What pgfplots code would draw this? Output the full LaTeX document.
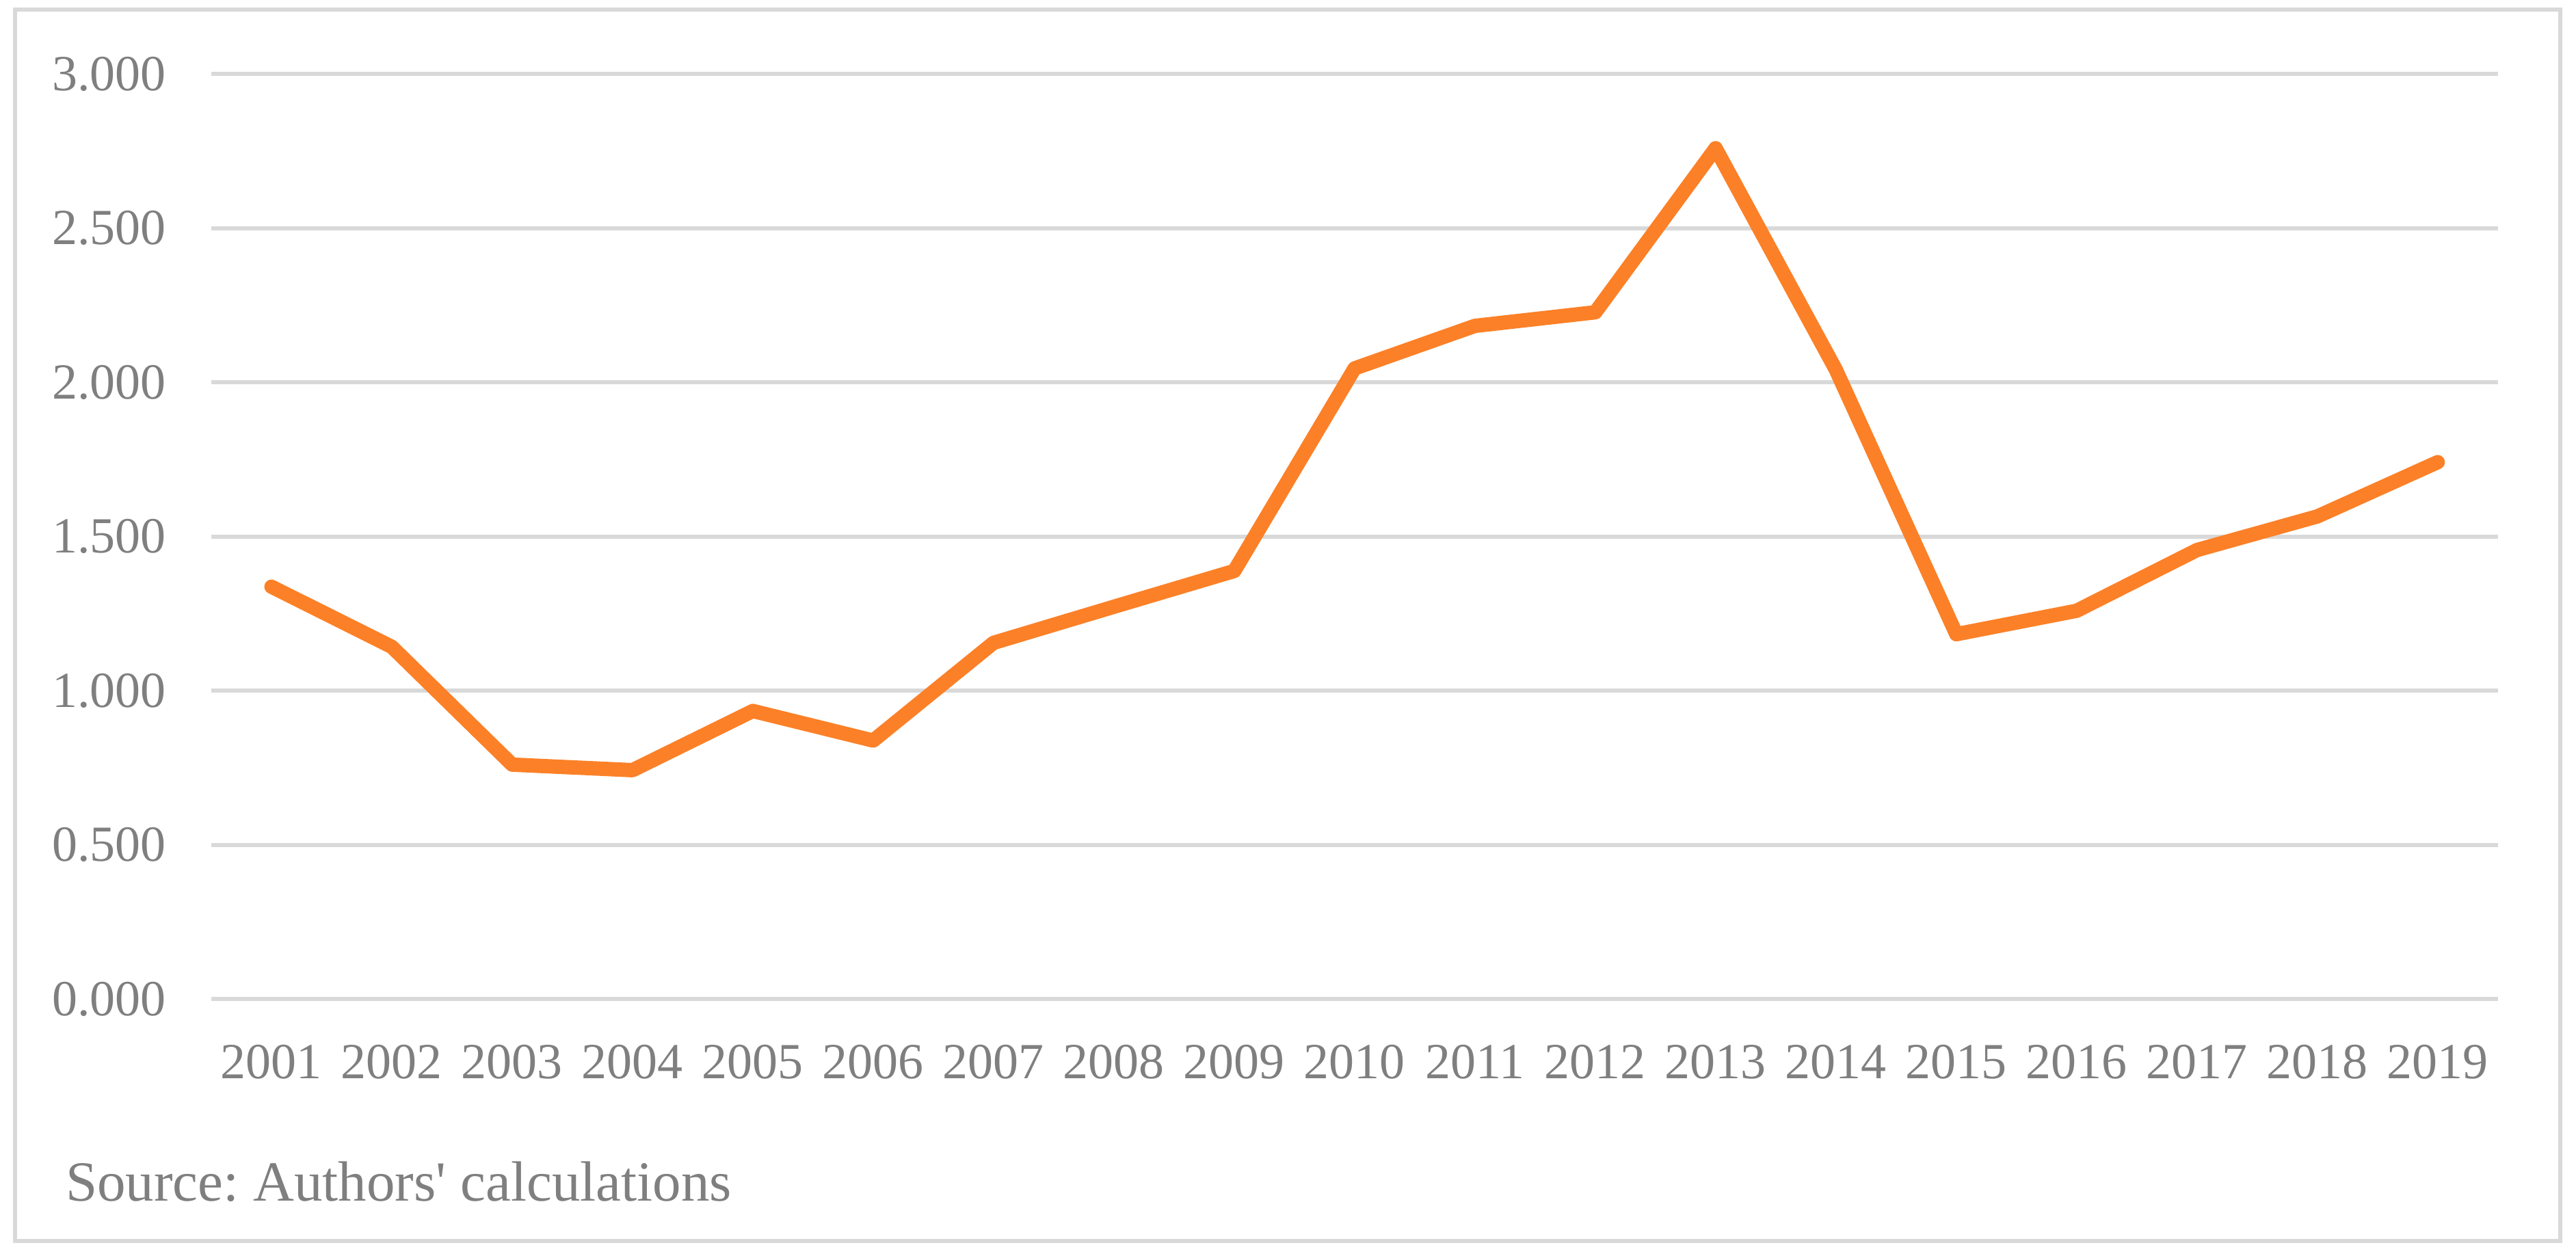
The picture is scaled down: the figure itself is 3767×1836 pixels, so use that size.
\documentclass[border=0pt]{standalone}
\usepackage{fontspec}
\setmainfont{Liberation Serif}
\usepackage{pgfplots}
\pgfplotsset{compat=1.18}

\definecolor{lineorange}{RGB}{252,128,39}
\definecolor{gridgray}{RGB}{217,217,217}
\definecolor{textgray}{RGB}{127,127,127}

\begin{document}
\frenchspacing
\begin{tikzpicture}[x=0.1pt,y=0.1pt]
\useasboundingbox (0,0) rectangle (3767,1836);
\draw[gridgray, line width=0.6pt] (22,21) rectangle (3744,1822);

\begin{axis}[
  at={(30.9pt,37.5pt)}, anchor=south west,
  scale only axis,
  width=334.4pt, height=135.3pt,
  xmin=0.5, xmax=19.5,
  ymin=0, ymax=3,
  axis line style={draw=none},
  major tick length=0pt,
  xtick={1,...,19},
  xticklabels={2001,2002,2003,2004,2005,2006,2007,2008,2009,2010,2011,2012,2013,2014,2015,2016,2017,2018,2019},
  ytick={0,0.5,1,1.5,2,2.5,3},
  yticklabels={0.000,0.500,1.000,1.500,2.000,2.500,3.000},
  ymajorgrids,
  grid style={gridgray, line width=0.6pt},
  tick label style={font=\fontsize{7.4}{8.8}\selectfont, text=textgray},
  xticklabel style={anchor=base, inner sep=0pt, yshift=-11.6pt},
  yticklabel style={anchor=east, inner sep=0pt, xshift=-6.4pt},
  clip=false,
]
\addplot[lineorange, line width=2.1pt, line join=round, line cap=round, mark=none]
coordinates {
(1,1.337) (2,1.142) (3,0.760) (4,0.742) (5,0.934) (6,0.838) (7,1.155)
(8,1.272) (9,1.388) (10,2.045) (11,2.183) (12,2.227) (13,2.759) (14,2.040)
(15,1.183) (16,1.259) (17,1.456) (18,1.565) (19,1.741)
};
\end{axis}

\node[anchor=base west, inner sep=0pt, text=textgray, font=\fontsize{8.3}{10}\selectfont]
  at (94,80) {Source: Authors\textquotesingle{} calculations};
\end{tikzpicture}
\end{document}
